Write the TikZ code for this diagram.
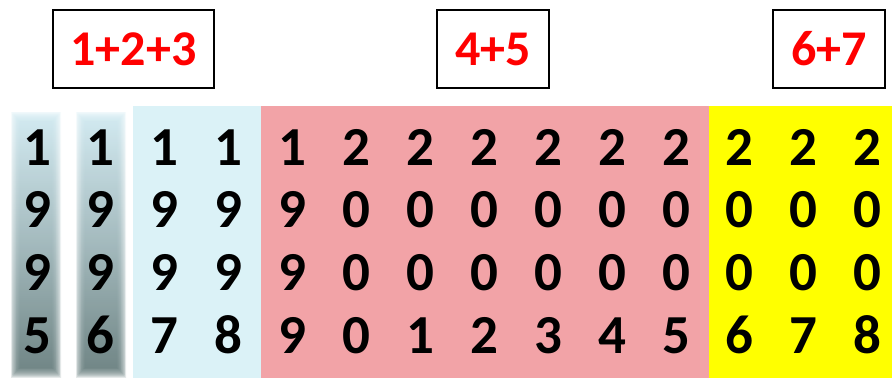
\documentclass[tikz,border=0pt]{standalone}
\usepackage{fontspec}
\setmainfont{Carlito}
\definecolor{lblue}{HTML}{DBF2F7}
\definecolor{lpink}{HTML}{F2A3A7}
\definecolor{lyel}{HTML}{FFFF00}
\definecolor{shtop}{HTML}{CDE8F0}
\definecolor{shbot}{HTML}{5E7676}
\tikzset{
  digit/.style={font=\bfseries\fontsize{55}{55}\selectfont, inner sep=0pt, text=black, anchor=base},
  labelbox/.style={draw=black, line width=1.6pt, fill=white, text=red, font=\bfseries\fontsize{50}{50}\selectfont, inner sep=0pt}
}
\begin{document}
\begin{tikzpicture}[x=1pt,y=-1pt]
\useasboundingbox (0,0) rectangle (892,378);
% backgrounds
\fill[lblue] (133,106) rectangle (261,378);
\fill[lpink] (261,106) rectangle (709,378);
\fill[lyel] (709,106) rectangle (892,378);
% blurred columns
\foreach \cx in {36,101}{
  \foreach \k in {0,...,11}{
    \shade[top color=shtop, bottom color=shbot, fill opacity=0.16]
      (\cx-25+\k*0.8,112+\k*0.9) rectangle (\cx+25-\k*0.8,377-\k*0.9);
  }
}
% label boxes
\node[labelbox, minimum width=161pt, minimum height=78pt] (l1) at (133.5,49) {1+2+3};
\node[labelbox, minimum width=112pt, minimum height=78pt] (l2) at (493,49) {4+5};
\node[labelbox, minimum width=112pt, minimum height=78pt] (l3) at (829,49) {6+7};
% digits
\foreach \a/\b/\c/\d [count=\i] in {1/9/9/5,1/9/9/6,1/9/9/7,1/9/9/8,1/9/9/9,2/0/0/0,2/0/0/1,2/0/0/2,2/0/0/3,2/0/0/4,2/0/0/5,2/0/0/6,2/0/0/7,2/0/0/8}{
  \pgfmathsetmacro{\xx}{37+(\i-1)*63.9}
  \node[digit] (d1-\i) at (\xx,165) {\a};
  \node[digit] (d2-\i) at (\xx,227.5) {\b};
  \node[digit] (d3-\i) at (\xx,290.5) {\c};
  \node[digit] (d4-\i) at (\xx,353) {\d};
}
\end{tikzpicture}
\end{document}
